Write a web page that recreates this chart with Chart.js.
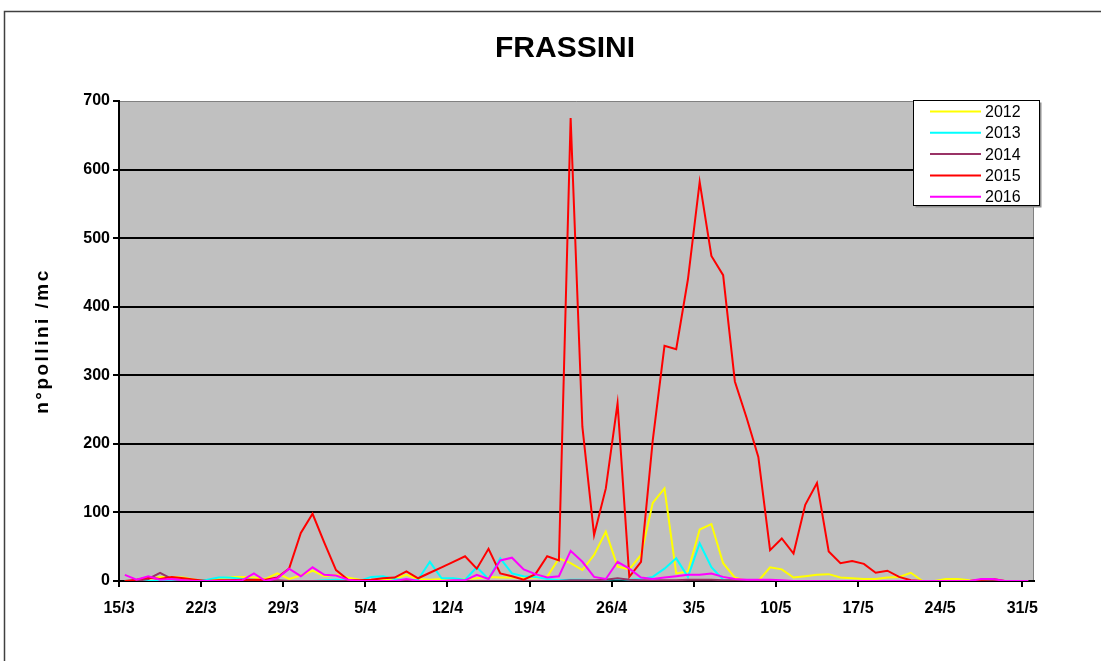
<!DOCTYPE html>
<html>
<head>
<meta charset="utf-8">
<title>FRASSINI</title>
<script src="https://cdn.jsdelivr.net/npm/chart.js@4.4.1/dist/chart.umd.min.js"></script>
<style>
  html, body { margin: 0; padding: 0; background: #ffffff; }
  canvas { display: block; }
</style>
</head>
<body>
<canvas id="chart" width="1101" height="661"></canvas>
<script>
// Daily pollen counts, 15 March - 31 May
const dates = [
  '15/3','16/3','17/3','18/3','19/3','20/3','21/3','22/3','23/3','24/3','25/3','26/3','27/3','28/3','29/3','30/3','31/3',
  '1/4','2/4','3/4','4/4','5/4','6/4','7/4','8/4','9/4','10/4','11/4','12/4','13/4','14/4','15/4','16/4','17/4','18/4','19/4',
  '20/4','21/4','22/4','23/4','24/4','25/4','26/4','27/4','28/4','29/4','30/4',
  '1/5','2/5','3/5','4/5','5/5','6/5','7/5','8/5','9/5','10/5','11/5','12/5','13/5','14/5','15/5','16/5','17/5','18/5',
  '19/5','20/5','21/5','22/5','23/5','24/5','25/5','26/5','27/5','28/5','29/5','30/5','31/5'
];
const tickLabels = ['15/3','22/3','29/3','5/4','12/4','19/4','26/4','3/5','10/5','17/5','24/5','31/5'];
const years = ['2012','2013','2014','2015','2016'];
const titleText = 'FRASSINI';
const yAxisTitle = 'n°pollini /mc';

const v2012 = [0,0,3,6,6,5,2,0,3,6,6,5,3,11,3,8,15,7,9,5,2,0,2,3,9,3,2,3,2,3,4,6,5,5,4,5,6,33,26,16,38,72,21,17,38,114,135,11,14,75,83,26,5,0,0,20,17,5,7,9,10,5,4,3,3,5,6,12,0,0,3,3,1,0,0,0,0,0];
const v2013 = [0,1,0,0,1,0,0,2,5,5,3,2,0,0,0,0,0,1,2,1,0,6,7,3,1,2,28,4,4,2,20,3,33,11,7,6,3,1,2,2,1,2,3,2,3,6,18,33,6,55,20,2,0,0,0,0,0,0,0,0,0,0,0,0,0,0,0,0,0,0,0,0,0,0,0,0,0,0];
const v2014 = [0,0,3,12,3,1,0,0,0,0,0,0,1,1,0,0,0,0,0,0,0,0,0,0,0,0,0,0,0,0,0,0,0,0,0,0,0,0,1,1,1,2,4,2,1,1,1,1,2,2,2,1,1,0,0,0,0,0,0,0,0,0,0,0,0,0,0,0,0,0,0,0,0,0,0,0,0,0];
const v2015 = [0,2,5,3,6,4,2,0,1,1,2,2,2,5,18,70,98,56,16,2,1,2,4,5,14,4,12,20,28,36,18,47,11,7,2,10,36,30,675,225,67,135,259,6,28,205,343,338,440,582,474,446,291,238,181,45,62,40,111,143,43,26,29,25,12,15,6,1,0,0,0,0,0,2,3,0,0,0];
const v2016 = [9,2,7,2,3,1,0,0,0,0,1,11,0,4,18,7,20,9,8,2,0,0,0,0,3,0,0,0,1,1,9,3,30,34,17,10,5,7,44,28,6,3,28,18,5,3,5,7,9,9,11,6,3,2,2,2,1,0,0,0,0,0,0,0,0,0,0,0,0,0,0,0,0,3,3,0,0,0];

const seriesValues = [v2012, v2013, v2014, v2015, v2016];
const seriesColors = ['#ffff00', '#00ffff', '#993366', '#ff0000', '#ff00ff'];

const FONT = '"Liberation Sans", Arial, Helvetica, sans-serif';

// each day sits in the middle of its one-day slot on the date axis
const datasets = years.map((year, k) => ({
  label: year,
  data: dates.map((d, i) => ({ x: i + 0.5, y: seriesValues[k][i] })),
  borderColor: seriesColors[k],
  backgroundColor: seriesColors[k],
  borderWidth: 2,
  pointRadius: 0,
  tension: 0,
  fill: false,
  order: years.length - k
}));

const decorations = {
  id: 'decorations',
  beforeDraw(chart) {
    const { ctx, chartArea: a } = chart;
    ctx.save();
    ctx.fillStyle = '#ffffff';
    ctx.fillRect(0, 0, chart.width, chart.height);
    // outer frame
    ctx.strokeStyle = '#404040';
    ctx.lineWidth = 1.5;
    ctx.strokeRect(4.5, 11.5, chart.width + 40, chart.height + 40);
    // plot area
    ctx.fillStyle = '#c0c0c0';
    ctx.fillRect(a.left, a.top, a.right - a.left, a.bottom - a.top);
    ctx.strokeStyle = '#808080';
    ctx.lineWidth = 1;
    ctx.beginPath();
    ctx.moveTo(a.left, a.top + 0.5);
    ctx.lineTo(a.right - 0.5, a.top + 0.5);
    ctx.lineTo(a.right - 0.5, a.bottom);
    ctx.stroke();
    // title
    ctx.fillStyle = '#000000';
    ctx.font = 'bold 30px ' + FONT;
    ctx.textAlign = 'center';
    ctx.textBaseline = 'middle';
    ctx.fillText(titleText, 565, 49);
    // value axis title, reading bottom to top
    ctx.translate(43, (a.top + a.bottom) / 2);
    ctx.rotate(-Math.PI / 2);
    ctx.font = 'bold 19px ' + FONT;
    if ('letterSpacing' in ctx) ctx.letterSpacing = '2.5px';
    ctx.fillText(yAxisTitle, 0, 0);
    ctx.restore();
  },
  afterDraw(chart) {
    const { ctx } = chart;
    const bx = 913.5, by = 100.5, bw = 126, bh = 105;
    ctx.save();
    ctx.fillStyle = '#909090';
    ctx.fillRect(bx + 2, by + 2, bw, bh);
    ctx.fillStyle = '#ffffff';
    ctx.fillRect(bx, by, bw, bh);
    ctx.strokeStyle = '#000000';
    ctx.lineWidth = 1;
    ctx.strokeRect(bx, by, bw, bh);
    ctx.font = '16px ' + FONT;
    ctx.textAlign = 'left';
    ctx.textBaseline = 'middle';
    chart.data.datasets.forEach((ds, k) => {
      const y = 111.5 + k * 21.3;
      ctx.strokeStyle = ds.borderColor;
      ctx.lineWidth = 2;
      ctx.beginPath();
      ctx.moveTo(930, y);
      ctx.lineTo(981, y);
      ctx.stroke();
      ctx.fillStyle = '#000000';
      ctx.fillText(ds.label, 985, y + 1);
    });
    ctx.restore();
  }
};

new Chart(document.getElementById('chart'), {
  type: 'line',
  data: { datasets },
  options: {
    responsive: false,
    animation: false,
    events: [],
    layout: { padding: { left: 0, top: 101, right: 67, bottom: 0 } },
    plugins: {
      legend: { display: false },
      title: { display: false },
      tooltip: { enabled: false }
    },
    scales: {
      x: {
        type: 'linear',
        min: 0,
        max: dates.length,
        afterFit(scale) { scale.height = 80; },
        grid: { drawOnChartArea: false, drawTicks: true, tickLength: 6, tickColor: '#000000', lineWidth: 2 },
        border: { display: true, color: '#000000', width: 2 },
        ticks: {
          stepSize: 7,
          includeBounds: false,
          autoSkip: false,
          maxRotation: 0,
          padding: 12,
          color: '#000000',
          font: { family: FONT, size: 16, weight: 'bold' },
          callback: (value) => tickLabels[Math.round(value / 7)] ?? ''
        }
      },
      y: {
        min: 0,
        max: 700,
        afterFit(scale) { scale.width = 119; },
        grid: {
          color: (ctx) => (ctx.tick && ctx.tick.value === 700) ? 'rgba(0,0,0,0)' : '#000000',
          tickColor: '#000000',
          lineWidth: 2,
          tickLength: 6
        },
        border: { display: true, color: '#000000', width: 2 },
        ticks: {
          stepSize: 100,
          padding: 3,
          color: '#000000',
          font: { family: FONT, size: 16, weight: 'bold' }
        },
        title: { display: false }
      }
    }
  },
  plugins: [decorations]
});
</script>
</body>
</html>
